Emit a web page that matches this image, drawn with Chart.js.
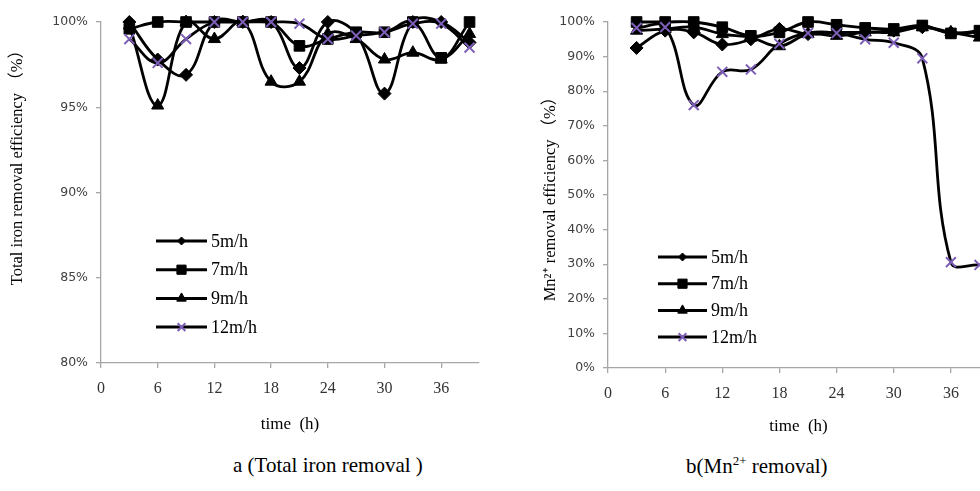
<!DOCTYPE html>
<html>
<head>
<meta charset="utf-8" />
<script src="https://cdn.jsdelivr.net/npm/chart.js@4.4.0/dist/chart.umd.min.js"></script>
<style>
  body { margin:0; background:#fff; width:980px; height:491px; overflow:hidden; position:relative; }
  .holder { position:absolute; top:0; height:445px; }
  #leftHolder { left:0; width:490px; }
  #rightHolder { left:490px; width:520px; }
  .caption { position:absolute; top:453px; font-family:'Liberation Serif','Times New Roman',serif; font-size:21px; color:#000; white-space:nowrap; }
  .caption sup { font-size:13px; }
</style>
</head>
<body>
<div class="holder" id="leftHolder"><canvas id="ironChart"></canvas></div>
<div class="holder" id="rightHolder"><canvas id="mnChart"></canvas></div>
<div class="caption" style="left:233px">a (Total iron removal )</div>
<div class="caption" style="left:686px">b(Mn<sup>2+</sup> removal)</div>

<script>
// sampling times (h)
const hours = [3, 6, 9, 12, 15, 18, 21, 24, 27, 30, 33, 36, 39];
const rateNames = ['5m/h', '7m/h', '9m/h', '12m/h'];
const timeTicks = [0, 6, 12, 18, 24, 30, 36];

// a: total iron removal efficiency (%)
const iron5  = [100, 97.8, 96.9, 100, 100, 100, 97.3, 100, 99.3, 95.8, 100, 100, 98.8];
const iron7  = [99.6, 100, 100, 100, 100, 100, 98.6, 99.0, 99.4, 99.4, 100, 97.9, 100];
const iron9  = [99.8, 95.1, 100, 99.0, 100, 96.5, 96.5, 99.3, 99.0, 97.8, 98.2, 97.8, 99.3];
const iron12 = [99.0, 97.6, 99.0, 100, 100, 100, 99.9, 99.0, 99.2, 99.4, 99.9, 99.9, 98.5];
const ironTicks = [80, 85, 90, 95, 100];

// b: Mn2+ removal efficiency (%)
const mn5  = [92.5, 97.5, 97.0, 93.5, 95.0, 98.0, 96.5, 97.0, 97.0, 97.5, 98.5, 97.0, 97.0];
const mn7  = [100, 100, 100, 98.5, 96.0, 97.0, 100, 99.2, 98.3, 98.0, 99.0, 96.7, 97.5];
const mn9  = [97.5, 98.0, 98.5, 96.5, 95.5, 93.0, 96.5, 96.0, 97.0, 97.0, 98.5, 97.0, 95.5];
const mn12 = [98.3, 98.5, 76.0, 85.6, 86.3, 93.7, 96.8, 96.8, 95.0, 94.0, 89.5, 30.6, 29.8];
const mnTicks = [0, 10, 20, 30, 40, 50, 60, 70, 80, 90, 100];

const styles = [
  { pointStyle:'rectRot',  radius:6.5, legendRadius:4,   color:'#000',    border:1 },
  { pointStyle:'rect',     radius:7.5, legendRadius:6.5, color:'#000',    border:1 },
  { pointStyle:'triangle', radius:7,   legendRadius:5.5, color:'#000',    border:1 },
  { pointStyle:'crossRot', radius:7,   legendRadius:5.5, color:'#7d5fb8', border:2 }
];

const axisGrey = '#a6a6a6';
const serif = "'Liberation Serif','Times New Roman','Noto Sans CJK SC',serif";

// legend drawn inside the plot, Excel style
const markerLegend = {
  id: 'markerLegend',
  afterDraw(chart, args, opts) {
    const ctx = chart.ctx;
    chart.data.datasets.forEach((ds, i) => {
      const st = styles[i];
      const y = opts.y + i * opts.gap;
      ctx.save();
      ctx.strokeStyle = '#000';
      ctx.lineWidth = 3;
      ctx.beginPath();
      ctx.moveTo(opts.x, y);
      ctx.lineTo(opts.x + opts.len, y);
      ctx.stroke();
      ctx.fillStyle = st.color;
      ctx.strokeStyle = st.color;
      ctx.lineWidth = st.border;
      Chart.helpers.drawPoint(ctx, { pointStyle: st.pointStyle, radius: st.legendRadius, rotation: 0, borderWidth: st.border }, opts.x + opts.len / 2, y);
      ctx.fillStyle = '#000';
      ctx.font = '18px ' + serif;
      ctx.textBaseline = 'middle';
      ctx.textAlign = 'left';
      ctx.fillText(ds.label, opts.x + opts.len + 4, y + 1);
      ctx.restore();
    });
  }
};

function makeChart(id, seriesList, yTicks, yTitle, area, legendPos) {
  const el = document.getElementById(id);
  const W = el.parentNode.clientWidth, H = el.parentNode.clientHeight;
  const datasets = seriesList.map((vals, i) => ({
    label: rateNames[i],
    data: vals.map((v, k) => ({ x: hours[k], y: v })),
    borderColor: '#000',
    borderWidth: 2.8,
    tension: 0.4,
    pointStyle: styles[i].pointStyle,
    pointRadius: styles[i].radius,
    pointBorderWidth: styles[i].border,
    pointBackgroundColor: styles[i].color,
    pointBorderColor: styles[i].color,
    order: 4 - i,
    clip: false
  }));
  return new Chart(el, {
    type: 'line',
    data: { datasets },
    options: {
      responsive: true,
      maintainAspectRatio: false,
      animation: false,
      layout: { padding: { top: area.top, right: W - area.right, left: area.padLeft, bottom: 0 } },
      elements: { line: { capBezierPoints: false } },
      plugins: { legend: { display: false }, tooltip: { enabled: false }, markerLegend: legendPos },
      scales: {
        x: {
          type: 'linear', min: 0, max: 40,
          afterFit: s => { s.height = H - area.bottom; },
          afterBuildTicks: s => { s.ticks = timeTicks.map(v => ({ value: v })); },
          grid: { drawOnChartArea: false, drawTicks: true, tickLength: 5, color: axisGrey, lineWidth: 1.3 },
          border: { color: axisGrey, width: 1.3 },
          ticks: { color: '#333', font: { family: serif, size: 16 }, padding: 11, maxRotation: 0 },
          title: { display: true, text: 'time\u00a0\u00a0(h)', color: '#000', font: { family: serif, size: 17 }, padding: { bottom: area.xTitlePad, top: 0 } }
        },
        y: {
          min: yTicks[0], max: yTicks[yTicks.length - 1],
          afterFit: s => { s.width = area.left - area.padLeft; },
          afterBuildTicks: s => { s.ticks = yTicks.map(v => ({ value: v })); },
          grid: { drawOnChartArea: false, drawTicks: true, tickLength: 5, color: axisGrey, lineWidth: 1.3 },
          border: { color: axisGrey, width: 1.3 },
          ticks: { color: '#404040', font: { family: "'DejaVu Sans',sans-serif", size: 12.5 }, padding: 8, callback: v => v + '%' },
          title: { display: true, text: yTitle, color: '#000', font: { family: serif, size: 16.5 }, padding: { top: area.yTitlePad, bottom: 0 } }
        }
      }
    },
    plugins: [markerLegend]
  });
}

makeChart('ironChart', [iron5, iron7, iron9, iron12], ironTicks,
  '\u00a0'.repeat(14) + 'Total iron removal efficiency \uff08%\uff09',
  { left: 101, top: 22, right: 479, bottom: 363, padLeft: 0, xTitlePad: 10, yTitlePad: 8 },
  { x: 156, y: 241, gap: 28.7, len: 51 });

makeChart('mnChart', [mn5, mn7, mn9, mn12], mnTicks,
  'Mn\u00b2\u207a removal efficiency \uff08%\uff09',
  { left: 118, top: 22, right: 499, bottom: 368, padLeft: 42, xTitlePad: 8, yTitlePad: 9 },
  { x: 168, y: 257, gap: 26.7, len: 49 });
</script>
</body>
</html>
